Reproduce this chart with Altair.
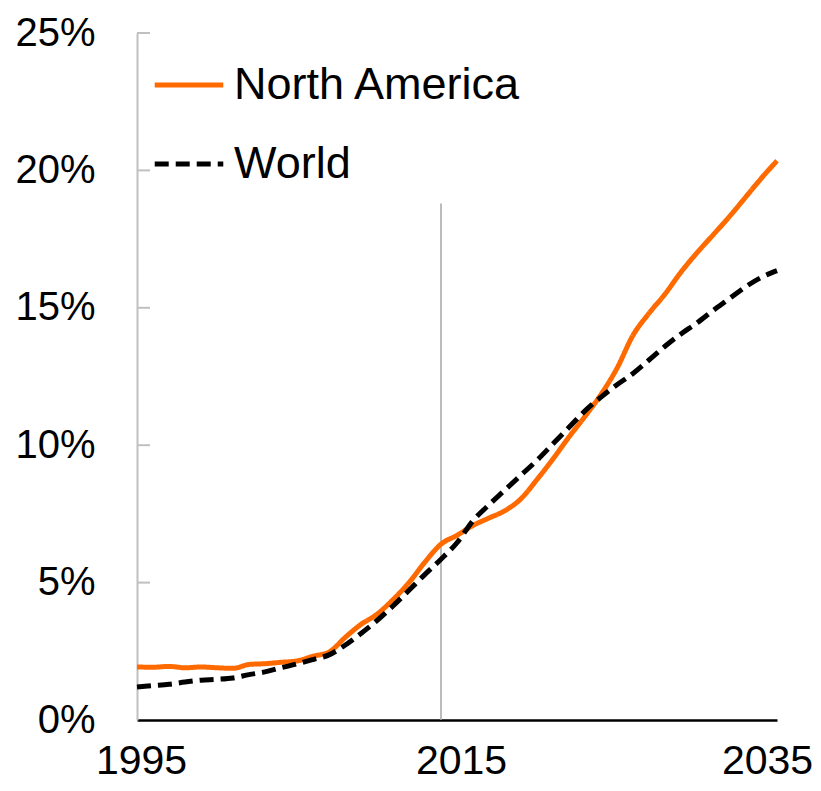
import altair as alt
import pandas as pd

years = list(range(1995, 2036))
north_america = [1.93, 1.92, 1.95, 1.90, 1.93, 1.90, 1.88, 2.02, 2.05, 2.10,
                 2.15, 2.32, 2.47, 3.00, 3.48, 3.85, 4.38, 5.00, 5.75, 6.40,
                 6.72, 7.08, 7.35, 7.62, 8.05, 8.75, 9.50, 10.30, 11.05, 11.85,
                 12.80, 14.00, 14.80, 15.50, 16.30, 17.00, 17.65, 18.30, 19.00, 19.70,
                 20.35]
world = [1.20, 1.25, 1.30, 1.38, 1.45, 1.48, 1.53, 1.65, 1.75, 1.90,
         2.04, 2.20, 2.37, 2.72, 3.15, 3.62, 4.15, 4.72, 5.30, 5.85,
         6.45, 7.25, 7.83, 8.37, 8.91, 9.45, 10.05, 10.65, 11.25, 11.75,
         12.20, 12.61, 13.10, 13.60, 14.05, 14.45, 14.90, 15.32, 15.75, 16.10,
         16.35]
series_names = ["North America", "World"]
series_colors = ["#ff6a00", "#000000"]
x_ticks = [1995, 2015, 2035]
y_ticks = [0, 5, 10, 15, 20, 25]
marker_year = [2014]
marker_top = [18.8]

rows = []
for name, vals in zip(series_names, [north_america, world]):
    for y, v in zip(years, vals):
        rows.append({"year": y, "value": v, "series": name})
df = pd.DataFrame(rows)

xscale = alt.Scale(domain=[1995, 2035], nice=False, zero=False)
yscale = alt.Scale(domain=[0, 25], nice=False)

legend = alt.Legend(
    title=None, orient="none", legendX=15, legendY=15, padding=0,
    symbolType="stroke", symbolSize=4700, symbolStrokeWidth=5,
    labelFontSize=45, labelFont="Liberation Sans", labelColor="#000000",
    labelOffset=8, rowPadding=19, labelLimit=0,
)

lines = alt.Chart(df).mark_line(strokeWidth=5, interpolate="monotone").encode(
    x=alt.X("year:Q", scale=xscale,
            axis=alt.Axis(values=x_ticks, format="d", title=None, ticks=False, grid=False,
                          domainColor="#000000", domainWidth=2.5,
                          labelFontSize=41, labelFont="Liberation Sans",
                          labelColor="#000000", labelPadding=21, labelFlush=False,
                          labelOffset={"condition": {"test": "datum.value == 2035", "value": -10}, "value": 4})),
    y=alt.Y("value:Q", scale=yscale,
            axis=alt.Axis(values=y_ticks, title=None, ticks=False, grid=False,
                          labelExpr="datum.value + '%'",
                          domainColor="#c0c0c0", domainWidth=2,
                          labelFontSize=40, labelFont="Liberation Sans",
                          labelColor="#000000", labelPadding=42)),
    color=alt.Color("series:N", scale=alt.Scale(domain=series_names, range=series_colors), legend=legend),
    strokeDash=alt.StrokeDash("series:N", scale=alt.Scale(domain=series_names, range=[[1, 0], [14, 7]]), legend=legend),
)

vdf = pd.DataFrame({"year": marker_year, "top": marker_top})
vline = alt.Chart(vdf).mark_rule(color="#a6a6a6", strokeWidth=1.5).encode(
    x=alt.X("year:Q", scale=xscale),
    y=alt.Y("zero:Q", scale=yscale),
    y2="top:Q",
).transform_calculate(zero="0")

tdf = pd.DataFrame({"tick": y_ticks[1:]})
ticks = alt.Chart(tdf).mark_rule(color="#c0c0c0", strokeWidth=2).encode(
    x=alt.value(0), x2=alt.value(13),
    y=alt.Y("tick:Q", scale=yscale),
)

chart = alt.layer(vline, ticks, lines).properties(
    width=640, height=687,
    autosize=alt.AutoSizeParams(type="none"),
    padding={"left": 129, "top": 25, "right": 36, "bottom": 62},
).configure_view(stroke=None)

chart.save("out.html", embed_options={"renderer": "svg", "actions": False})
